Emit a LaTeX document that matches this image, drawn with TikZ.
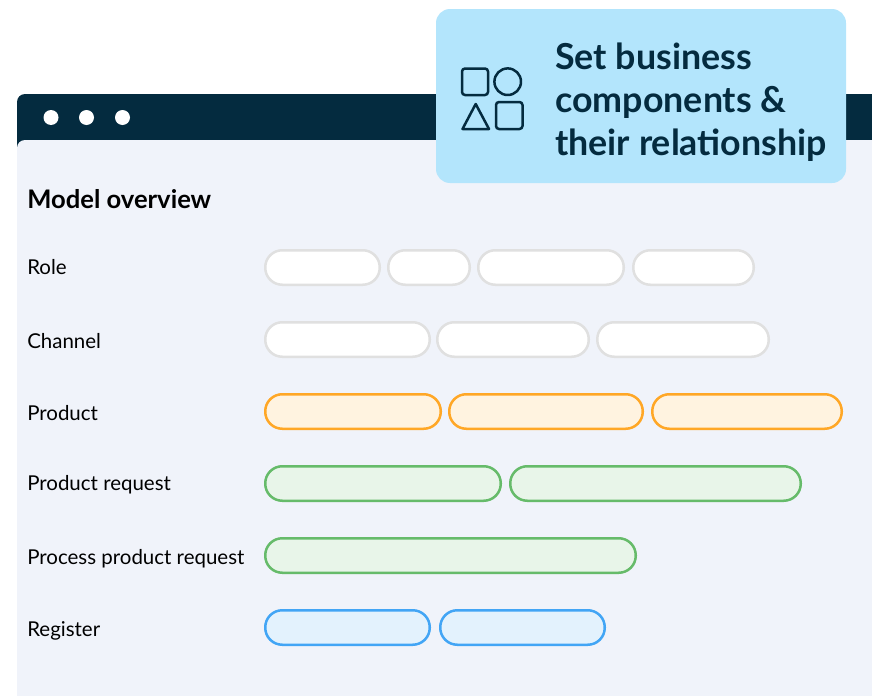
\documentclass[tikz,border=0pt]{standalone}
\usepackage{fontspec}
\setmainfont{Lato}
\def\px{0.75pt}
\definecolor{headerdark}{HTML}{042B3F}
\definecolor{panelblue}{HTML}{F0F3FA}
\definecolor{calloutblue}{HTML}{B3E5FC}
\definecolor{barorange}{HTML}{FFA726}
\definecolor{fillorange}{HTML}{FFF3E0}
\definecolor{bargreen}{HTML}{66BB6A}
\definecolor{fillgreen}{HTML}{E8F5E9}
\definecolor{barblue}{HTML}{42A5F5}
\definecolor{fillblue}{HTML}{E3F2FD}
\definecolor{bargrey}{HTML}{E0E0E0}
\tikzset{
  bar/.style={draw,line width=2.5*\px,rounded corners=17*\px,minimum height=34.5*\px,anchor=west,inner sep=0pt},
  greybar/.style={bar,draw=bargrey,fill=white},
  orangebar/.style={bar,draw=barorange,fill=fillorange},
  greenbar/.style={bar,draw=bargreen,fill=fillgreen},
  bluebar/.style={bar,draw=barblue,fill=fillblue},
  rowlabel/.style={anchor=base west,inner sep=0pt,font=\fontsize{15.35}{18}\selectfont,text=black},
  icon/.style={draw=headerdark,line width=2.5*\px,line join=round}
}
\begin{document}
\begin{tikzpicture}[x=0.75pt,y=-0.75pt]
  \useasboundingbox (0,0) rectangle (872,696);
  % window
  \fill[headerdark,rounded corners=8*\px] (17,170) -- (17,94) [sharp corners] -- (872,94) -- (872,170) -- cycle;
  \fill[panelblue,rounded corners=8*\px] (17,696) -- (17,140) [sharp corners] -- (872,140) -- (872,696) -- cycle;
  \fill[white] (51,117.5) circle (7.5);
  \fill[white] (86.5,117.5) circle (7.5);
  \fill[white] (122.5,117.5) circle (7.5);
  % callout
  \fill[calloutblue,rounded corners=14*\px] (436,9) rectangle (846,183);
  \draw[icon,rounded corners=3*\px] (462,68.5) rectangle (488,95);
  \draw[icon] (507.7,81.7) circle (13.3);
  \draw[icon] (475.7,104) -- (489,129) -- (462.5,129) -- cycle;
  \draw[icon,rounded corners=3*\px] (496,102) rectangle (522.5,129);
  \node[anchor=base west,inner sep=0pt,align=left,text=headerdark,font=\bfseries\fontsize{26.85}{32.25}\selectfont] (headline) at (555,155.5) {Set business\\components \&\\their relationship};
  % labels
  \node[anchor=base west,inner sep=0pt,text=black,font=\bfseries\fontsize{19.2}{22}\selectfont] (overview) at (27,208) {Model overview};
  \node[rowlabel] (role) at (27,274) {Role};
  \node[rowlabel] (channel) at (27,348) {Channel};
  \node[rowlabel] (product) at (27,420) {Product};
  \node[rowlabel] (request) at (27,490) {Product request};
  \node[rowlabel] (process) at (27,564) {Process product request};
  \node[rowlabel] (register) at (27,636) {Register};
  % bars
  \node[greybar,minimum width=114.5*\px] (role1) at (264,267.5) {};
  \node[greybar,minimum width=81.5*\px] (role2) at (387,267.5) {};
  \node[greybar,minimum width=145.5*\px] (role3) at (477,267.5) {};
  \node[greybar,minimum width=120.5*\px] (role4) at (632,267.5) {};
  \node[greybar,minimum width=164.5*\px] (channel1) at (264,339.5) {};
  \node[greybar,minimum width=151.5*\px] (channel2) at (436,339.5) {};
  \node[greybar,minimum width=171.5*\px] (channel3) at (596,339.5) {};
  \node[orangebar,minimum width=175.5*\px] (product1) at (264,411.5) {};
  \node[orangebar,minimum width=193.5*\px] (product2) at (448,411.5) {};
  \node[orangebar,minimum width=189.5*\px] (product3) at (651,411.5) {};
  \node[greenbar,minimum width=235.5*\px] (request1) at (264,483.5) {};
  \node[greenbar,minimum width=290.5*\px] (request2) at (509,483.5) {};
  \node[greenbar,minimum width=370.5*\px] (process1) at (264,555.5) {};
  \node[bluebar,minimum width=164.5*\px] (register1) at (264,627.5) {};
  \node[bluebar,minimum width=164.5*\px] (register2) at (439,627.5) {};
\end{tikzpicture}
\end{document}
